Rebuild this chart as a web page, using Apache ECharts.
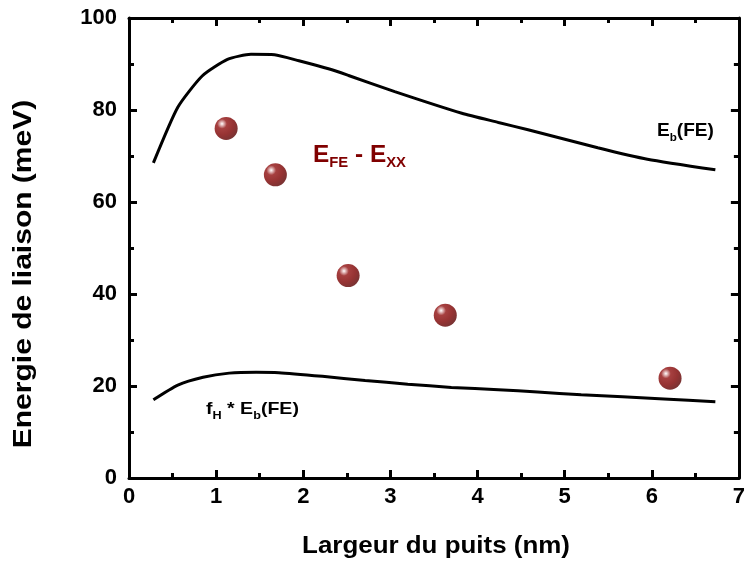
<!DOCTYPE html>
<html><head><meta charset="utf-8">
<script src="https://cdn.jsdelivr.net/npm/echarts@6/dist/echarts.min.js"></script>
<style>html,body{margin:0;padding:0;background:#fff}#c{width:748px;height:565px}</style>
</head><body><div id="c"></div>
<script>
// Upper curve: Eb(FE)
const ebX = [0.28, 0.56, 0.84, 1.13, 1.40, 1.67, 1.95, 2.30, 2.52, 3.05, 3.82, 4.24, 4.58, 5.38, 5.95, 6.73];
const ebY = [68.5, 80.6, 87.4, 91.0, 92.1, 92.0, 90.7, 88.9, 87.5, 84.0, 79.3, 77.3, 75.7, 71.8, 69.3, 67.0];
// Lower curve: fH * Eb(FE)
const fhX = [0.28, 0.56, 0.85, 1.15, 1.46, 1.72, 2.22, 2.71, 3.20, 3.70, 4.24, 4.69, 5.19, 6.14, 6.73];
const fhY = [17.0, 20.2, 21.9, 22.8, 23.0, 22.9, 22.1, 21.2, 20.4, 19.7, 19.2, 18.7, 18.1, 17.2, 16.6];
// Points: EFE - EXX
const ptX = [1.115, 1.68, 2.515, 3.63, 6.21];
const ptY = [76.0, 65.9, 44.0, 35.4, 21.7];
const xTicks = [0, 1, 2, 3, 4, 5, 6, 7];
const yTicks = [0, 20, 40, 60, 80, 100];
const xName = 'Largeur du puits (nm)';
const yName = 'Energie de liaison (meV)';

const zip = (a, b) => a.map((v, i) => [v, b[i]]);
const chart = echarts.init(document.getElementById('c'));
const F = '"Liberation Sans", Arial, sans-serif';
const axisCommon = {
  axisLine: { show: true, onZero: false, lineStyle: { color: '#000', width: 3 } },
  axisTick: { show: true, inside: true, length: 8, lineStyle: { color: '#000', width: 3 } },
  minorTick: { show: true, splitNumber: 2, length: 5, lineStyle: { color: '#000', width: 3 } },
  splitLine: { show: false }
};
const sub = (size, pad) => ({ fontFamily: F, fontWeight: 'bold', fontSize: size, padding: [pad, 0, 0, 0] });
chart.setOption({
  animation: false,
  grid: { left: 129, right: 6, top: 18, bottom: 87, containLabel: false },
  xAxis: [
    Object.assign({ type: 'value', min: 0, max: 7, interval: 1, position: 'bottom',
      axisLabel: { fontFamily: F, fontWeight: 'bold', fontSize: 22, color: '#000', margin: 8,
        formatter: v => xTicks.includes(v) ? String(v) : '' } }, axisCommon),
    Object.assign({ type: 'value', min: 0, max: 7, interval: 1, position: 'top', axisLabel: { show: false } }, axisCommon)
  ],
  yAxis: [
    Object.assign({ type: 'value', min: 0, max: 100, interval: 20, position: 'left',
      axisLabel: { fontFamily: F, fontWeight: 'bold', fontSize: 22, color: '#000', margin: 12,
        formatter: v => yTicks.includes(v) ? String(v) : '' } }, axisCommon),
    Object.assign({ type: 'value', min: 0, max: 100, interval: 20, position: 'right', axisLabel: { show: false } }, axisCommon)
  ],
  series: [
    { type: 'line', data: zip(ebX, ebY), showSymbol: false, smooth: 0.2, lineStyle: { color: '#000', width: 3 } },
    { type: 'line', data: zip(fhX, fhY), showSymbol: false, smooth: 0.2, lineStyle: { color: '#000', width: 3 } },
    { type: 'scatter', data: zip(ptX, ptY), symbol: 'circle', symbolSize: 23,
      itemStyle: { color: { type: 'radial', x: 0.32, y: 0.3, r: 0.75, colorStops: [
        { offset: 0, color: '#ffffff' }, { offset: 0.1, color: '#dcaaaa' }, { offset: 0.28, color: '#901010' },
        { offset: 0.65, color: '#7c0000' }, { offset: 1, color: '#580000' } ] } } }
  ],
  graphic: [
    { type: 'text', x: 436, y: 546, scaleX: 1.08, style: { text: xName, fontFamily: F, fontWeight: 'bold', fontSize: 24,
        fill: '#000', align: 'center', verticalAlign: 'middle' } },
    { type: 'text', x: 24, y: 274, rotation: Math.PI / 2, scaleX: 1.2, style: { text: yName, fontFamily: F, fontWeight: 'bold', fontSize: 25,
        fill: '#000', align: 'center', verticalAlign: 'middle' } },
    { type: 'text', x: 313, y: 141, scaleX: 1.06, style: { fill: '#800000', rich: {
        b: { fontFamily: F, fontWeight: 'bold', fontSize: 23 },
        s: sub(14, 15) },
      text: '{b|E}{s|FE}{b| - E}{s|XX}' } },
    { type: 'text', x: 657, y: 120, scaleX: 1.06, style: { fill: '#000', rich: {
        b: { fontFamily: F, fontWeight: 'bold', fontSize: 18 },
        s: sub(11, 12) },
      text: '{b|E}{s|b}{b|(FE)}' } },
    { type: 'text', x: 206, y: 398, scaleX: 1.15, style: { fill: '#000', rich: {
        b: { fontFamily: F, fontWeight: 'bold', fontSize: 17 },
        s: sub(11, 12) },
      text: '{b|f}{s|H}{b| * E}{s|b}{b|(FE)}' } }
  ]
});
</script></body></html>
